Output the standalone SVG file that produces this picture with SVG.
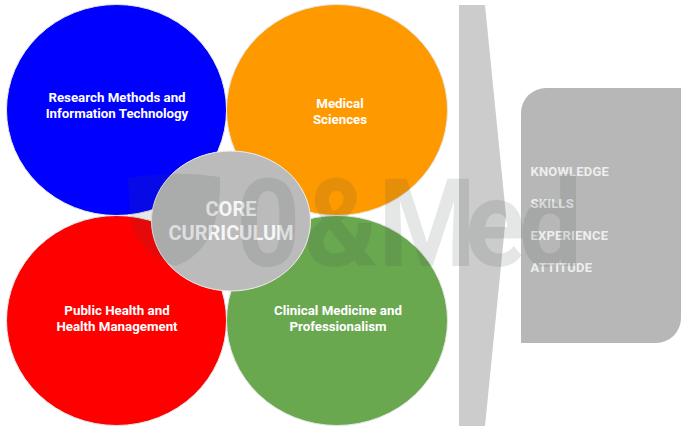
<svg xmlns="http://www.w3.org/2000/svg" width="698" height="438" viewBox="0 0 698 438">
<style>
text{font-family:Roboto,"Liberation Sans",sans-serif;font-weight:700;fill:#fff;text-anchor:middle}
.c{stroke:#e6e6e6;stroke-width:1}
.l{font-size:13.300px}
.k{font-size:13px;fill:#eeeeee;text-anchor:start;font-weight:700;letter-spacing:.2px}
.m{font-size:20px;fill:#f6f6f6;font-weight:700}
.w{font-size:122px;fill:#3c4a4a;text-anchor:start;font-weight:700}
</style>
<rect width="698" height="438" fill="#fff"/>
<g id="research"><ellipse class="c" cx="116.500" cy="110" rx="110" ry="105.500" fill="#0000ff"/><text class="l" x="117" y="102">Research Methods and</text><text class="l" x="117" y="118">Information Technology</text></g>
<g id="medical"><ellipse class="c" cx="337" cy="110" rx="110.500" ry="105.500" fill="#ff9900"/><text class="l" x="340" y="108">Medical</text><text class="l" x="340" y="124">Sciences</text></g>
<g id="public-health"><ellipse class="c" cx="116.500" cy="320.500" rx="110" ry="105" fill="#ff0000"/><text class="l" x="117" y="315">Public Health and</text><text class="l" x="117" y="331">Health Management</text></g>
<g id="clinical"><ellipse class="c" cx="337" cy="320.500" rx="110.500" ry="105" fill="#6aa84f"/><text class="l" x="338" y="315">Clinical Medicine and</text><text class="l" x="338" y="331">Professionalism</text></g>
<g id="core"><ellipse cx="231" cy="221" rx="79.500" ry="70" fill="#bbbbbb" stroke="#eeeeee" stroke-width="1"/><text class="m" x="231" y="216">CORE</text><text class="m" x="231" y="240">CURRICULUM</text></g>
<g id="arrow"><path d="M459 5H485L506 215.500 485 426H459Z" fill="#cccccc"/></g>
<g id="outcomes"><path d="M521 343V113A25 25 0 0 1 546 88H681V318A25 25 0 0 1 656 343Z" fill="#b7b7b7"/>
<text class="k" x="530.500" y="176">KNOWLEDGE</text><text class="k" x="530.500" y="208">SKILLS</text><text class="k" x="530.500" y="240">EXPERIENCE</text><text class="k" x="530.500" y="272">ATTITUDE</text></g>
<g id="connectors"/>
<g id="watermark" opacity=".13"><path d="M128 178Q175 170 220 177Q222 250 175 266Q133 250 130 215Z" fill="#3c4a4a"/><text class="w" transform="scale(.92 1)" x="256.500 330.400 410.900 505.400 564" y="266">0&amp;Med</text></g>
</svg>
